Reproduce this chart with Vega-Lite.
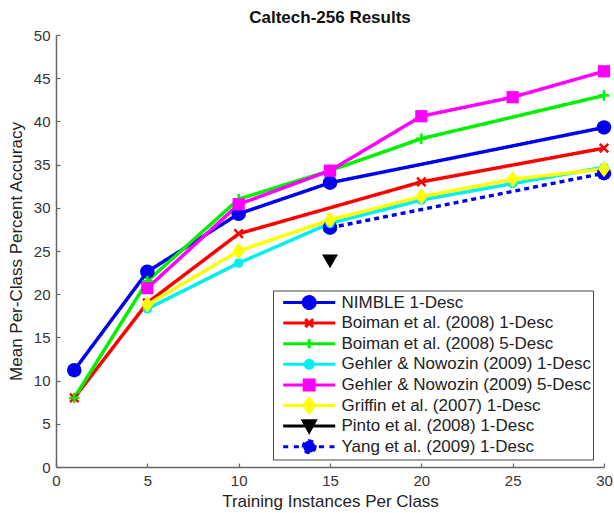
{
  "$schema": "https://vega.github.io/schema/vega-lite/v6.json",
  "width": 548,
  "height": 432,
  "autosize": {"type": "none"},
  "padding": {"left": 56, "top": 35, "right": 10, "bottom": 46},
  "background": "white",
  "title": {"text": "Caltech-256 Results", "font": "Liberation Sans", "fontSize": 17, "fontWeight": "bold", "color": "#111", "offset": 1},
  "config": {
    "view": {"stroke": null},
    "axis": {"grid": false, "labelFont": "Liberation Sans", "titleFont": "Liberation Sans", "labelColor": "#333", "titleColor": "#222", "domainColor": "#666", "tickColor": "#666", "domainWidth": 1.5, "tickWidth": 1.2}
  },
  "data": {"values": [
    {"series": "NIMBLE 1-Desc", "x": 1, "y": 11.2},
    {"series": "NIMBLE 1-Desc", "x": 5, "y": 22.6},
    {"series": "NIMBLE 1-Desc", "x": 10, "y": 29.3},
    {"series": "NIMBLE 1-Desc", "x": 15, "y": 32.9},
    {"series": "NIMBLE 1-Desc", "x": 30, "y": 39.3},
    {"series": "Boiman et al. (2008) 1-Desc", "x": 1, "y": 8.0},
    {"series": "Boiman et al. (2008) 1-Desc", "x": 5, "y": 19.0},
    {"series": "Boiman et al. (2008) 1-Desc", "x": 10, "y": 27.0},
    {"series": "Boiman et al. (2008) 1-Desc", "x": 20, "y": 33.0},
    {"series": "Boiman et al. (2008) 1-Desc", "x": 30, "y": 36.9},
    {"series": "Boiman et al. (2008) 5-Desc", "x": 1, "y": 8.0},
    {"series": "Boiman et al. (2008) 5-Desc", "x": 5, "y": 21.5},
    {"series": "Boiman et al. (2008) 5-Desc", "x": 10, "y": 31.0},
    {"series": "Boiman et al. (2008) 5-Desc", "x": 15, "y": 34.3},
    {"series": "Boiman et al. (2008) 5-Desc", "x": 20, "y": 38.0},
    {"series": "Boiman et al. (2008) 5-Desc", "x": 30, "y": 43.0},
    {"series": "Gehler & Nowozin (2009) 1-Desc", "x": 5, "y": 18.3},
    {"series": "Gehler & Nowozin (2009) 1-Desc", "x": 10, "y": 23.6},
    {"series": "Gehler & Nowozin (2009) 1-Desc", "x": 15, "y": 28.2},
    {"series": "Gehler & Nowozin (2009) 1-Desc", "x": 20, "y": 30.9},
    {"series": "Gehler & Nowozin (2009) 1-Desc", "x": 25, "y": 32.8},
    {"series": "Gehler & Nowozin (2009) 1-Desc", "x": 30, "y": 34.7},
    {"series": "Gehler & Nowozin (2009) 5-Desc", "x": 5, "y": 20.7},
    {"series": "Gehler & Nowozin (2009) 5-Desc", "x": 10, "y": 30.4},
    {"series": "Gehler & Nowozin (2009) 5-Desc", "x": 15, "y": 34.3},
    {"series": "Gehler & Nowozin (2009) 5-Desc", "x": 20, "y": 40.6},
    {"series": "Gehler & Nowozin (2009) 5-Desc", "x": 25, "y": 42.8},
    {"series": "Gehler & Nowozin (2009) 5-Desc", "x": 30, "y": 45.8},
    {"series": "Griffin et al. (2007) 1-Desc", "x": 5, "y": 18.8},
    {"series": "Griffin et al. (2007) 1-Desc", "x": 10, "y": 25.0},
    {"series": "Griffin et al. (2007) 1-Desc", "x": 15, "y": 28.6},
    {"series": "Griffin et al. (2007) 1-Desc", "x": 20, "y": 31.3},
    {"series": "Griffin et al. (2007) 1-Desc", "x": 25, "y": 33.3},
    {"series": "Griffin et al. (2007) 1-Desc", "x": 30, "y": 34.5},
    {"series": "Pinto et al. (2008) 1-Desc", "x": 15, "y": 23.8},
    {"series": "Yang et al. (2009) 1-Desc", "x": 15, "y": 27.7},
    {"series": "Yang et al. (2009) 1-Desc", "x": 30, "y": 34.0}
  ]},
  "encoding": {
    "x": {"field": "x", "type": "quantitative", "scale": {"domain": [0, 30], "nice": false},
      "axis": {"values": [0, 5, 10, 15, 20, 25, 30], "title": "Training Instances Per Class", "titleFontSize": 17, "titleFontWeight": "normal", "titlePadding": 5, "labelFontSize": 15, "tickSize": -4, "labelPadding": 10, "labelFlush": false}},
    "y": {"field": "y", "type": "quantitative", "scale": {"domain": [0, 50], "nice": false},
      "axis": {"values": [0, 5, 10, 15, 20, 25, 30, 35, 40, 45, 50], "title": "Mean Per-Class Percent Accuracy", "titleFontSize": 17, "titleFontWeight": "normal", "titlePadding": 8, "labelFontSize": 15, "tickSize": -4, "labelPadding": 10, "labelFlush": false}},
    "color": {"field": "series", "type": "nominal",
      "scale": {"domain": ["NIMBLE 1-Desc", "Boiman et al. (2008) 1-Desc", "Boiman et al. (2008) 5-Desc", "Gehler & Nowozin (2009) 1-Desc", "Gehler & Nowozin (2009) 5-Desc", "Griffin et al. (2007) 1-Desc", "Pinto et al. (2008) 1-Desc", "Yang et al. (2009) 1-Desc"],
        "range": ["#0000f0", "#ff0000", "#00f000", "#00f0f0", "#ff00ff", "#ffff00", "#000000", "#0000f0"]},
      "legend": {
        "orient": "none", "legendX": 217, "legendY": 255.5, "title": null,
        "strokeColor": "#444", "fillColor": "white", "padding": 2,
        "labelFont": "Liberation Sans", "labelFontSize": 17, "labelColor": "#222",
        "symbolSize": 310, "symbolType": "circle", "labelOffset": 45.5, "rowPadding": 0.6, "clipHeight": 20, "labelLimit": 400,
        "encode": {"symbols": {"update": {
          "shape": {"signal": "datum.value === 'NIMBLE 1-Desc' ? 'M-0.26,0H5.65M3.37,0A0.68,0.68,0,1,1,2.01,0A0.68,0.68,0,1,1,3.37,0Z' : datum.value === 'Boiman et al. (2008) 1-Desc' ? 'M-0.26,0H5.65M2.24,-0.45L3.14,0.45M2.24,0.45L3.14,-0.45' : datum.value === 'Boiman et al. (2008) 5-Desc' ? 'M-0.26,0H5.65M2.69,-0.51V0.51' : datum.value === 'Gehler & Nowozin (2009) 1-Desc' ? 'M-0.26,0H5.65M3.14,0A0.45,0.45,0,1,1,2.24,0A0.45,0.45,0,1,1,3.14,0Z' : datum.value === 'Gehler & Nowozin (2009) 5-Desc' ? 'M-0.26,0H5.65M2.12,-0.57H3.26V0.57H2.12Z' : datum.value === 'Griffin et al. (2007) 1-Desc' ? 'M-0.26,0H5.65M2.69,-0.8L3.31,0L2.69,0.8L2.07,0Z' : datum.value === 'Pinto et al. (2008) 1-Desc' ? 'M-0.26,0H5.65M2.01,-0.6H3.37L2.69,0.65Z' : 'M-0.26,0H0.4M0.95,0H1.6M3.8,0H4.45M5.0,0H5.65M3.37,0A0.68,0.68,0,1,1,2.01,0A0.68,0.68,0,1,1,3.37,0Z'"},
          "fill": {"scale": "color", "field": "value"},
          "stroke": {"scale": "color", "field": "value"},
          "strokeWidth": {"value": 3},
          "strokeDash": {"value": []},
          "size": {"value": 310},
          "opacity": {"value": 1}
        }}}
      }}
  },
  "layer": [
    {
      "mark": {"type": "line", "strokeWidth": 3.5},
      "encoding": {
        "strokeDash": {"field": "series", "type": "nominal", "legend": null,
          "scale": {"domain": ["NIMBLE 1-Desc", "Boiman et al. (2008) 1-Desc", "Boiman et al. (2008) 5-Desc", "Gehler & Nowozin (2009) 1-Desc", "Gehler & Nowozin (2009) 5-Desc", "Griffin et al. (2007) 1-Desc", "Pinto et al. (2008) 1-Desc", "Yang et al. (2009) 1-Desc"],
            "range": [[1, 0], [1, 0], [1, 0], [1, 0], [1, 0], [1, 0], [1, 0], [5, 4]]}}
      }
    },
    {
      "transform": [{"filter": {"field": "series", "oneOf": ["NIMBLE 1-Desc", "Yang et al. (2009) 1-Desc"]}}],
      "mark": {"type": "point", "filled": true, "opacity": 1, "shape": "circle", "size": 210}
    },
    {
      "transform": [{"filter": {"field": "series", "equal": "Boiman et al. (2008) 1-Desc"}}],
      "mark": {"type": "point", "filled": false, "opacity": 1, "shape": "M-1,-1L1,1M-1,1L1,-1", "size": 72, "strokeWidth": 2.5}
    },
    {
      "transform": [{"filter": {"field": "series", "equal": "Boiman et al. (2008) 5-Desc"}}],
      "mark": {"type": "point", "filled": false, "opacity": 1, "shape": "M-1,0H1M0,-1V1", "size": 110, "strokeWidth": 2.5}
    },
    {
      "transform": [{"filter": {"field": "series", "equal": "Gehler & Nowozin (2009) 1-Desc"}}],
      "mark": {"type": "point", "filled": true, "opacity": 1, "shape": "circle", "size": 90}
    },
    {
      "transform": [{"filter": {"field": "series", "equal": "Gehler & Nowozin (2009) 5-Desc"}}],
      "mark": {"type": "point", "filled": true, "opacity": 1, "shape": "square", "size": 150}
    },
    {
      "transform": [{"filter": {"field": "series", "equal": "Griffin et al. (2007) 1-Desc"}}],
      "mark": {"type": "point", "filled": true, "opacity": 1, "shape": "M0,-1.35L1,0L0,1.35L-1,0Z", "size": 150}
    },
    {
      "transform": [{"filter": {"field": "series", "equal": "Pinto et al. (2008) 1-Desc"}}],
      "mark": {"type": "point", "filled": true, "opacity": 1, "shape": "M-1,-0.85L1,-0.85L0,0.85Z", "size": 256}
    }
  ]
}
